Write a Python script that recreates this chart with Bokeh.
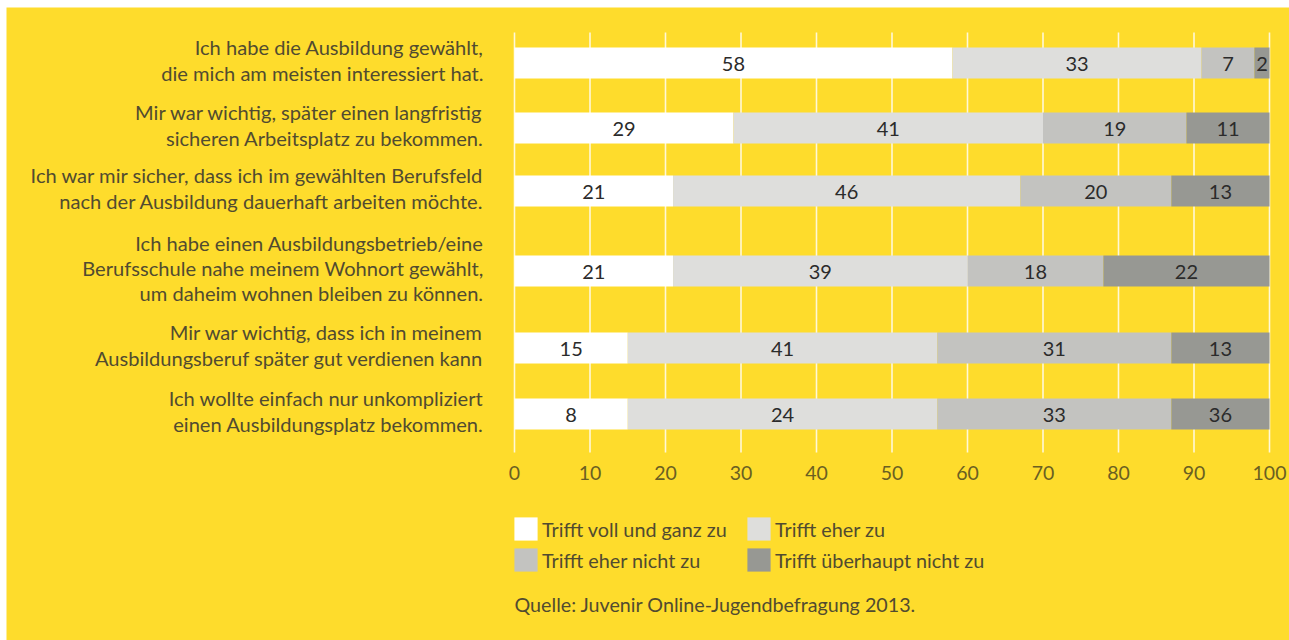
from bokeh.plotting import figure
from bokeh.models import Range1d, ColumnDataSource, Legend, LegendItem
from bokeh.embed import file_html
from bokeh.resources import INLINE
from bokeh.core.properties import value

# ---------------- data ----------------
categories = [
    "Ich habe die Ausbildung gewählt,\ndie mich am meisten interessiert hat.",
    "Mir war wichtig, später einen langfristig\nsicheren Arbeitsplatz zu bekommen.",
    "Ich war mir sicher, dass ich im gewählten Berufsfeld\nnach der Ausbildung dauerhaft arbeiten möchte.",
    "Ich habe einen Ausbildungsbetrieb/eine\nBerufsschule nahe meinem Wohnort gewählt,\num daheim wohnen bleiben zu können.",
    "Mir war wichtig, dass ich in meinem\nAusbildungsberuf später gut verdienen kann",
    "Ich wollte einfach nur unkompliziert\neinen Ausbildungsplatz bekommen.",
]
series = ["Trifft voll und ganz zu", "Trifft eher zu", "Trifft eher nicht zu", "Trifft überhaupt nicht zu"]

# values printed in the bars (%)
voll_und_ganz = [58, 29, 21, 21, 15, 8]
eher_zu = [33, 41, 46, 39, 41, 24]
eher_nicht = [7, 19, 20, 18, 31, 33]
ueberhaupt_nicht = [2, 11, 13, 22, 13, 36]

# segment lengths as drawn in the original (its last bar repeats the geometry of row 5)
voll_und_ganz_bar = [58, 29, 21, 21, 15, 15]
eher_zu_bar = [33, 41, 46, 39, 41, 41]
eher_nicht_bar = [7, 19, 20, 18, 31, 31]
ueberhaupt_nicht_bar = [2, 11, 13, 22, 13, 13]

ticks = [0, 10, 20, 30, 40, 50, 60, 70, 80, 90, 100]
source_note = "Quelle: Juvenir Online-Jugendbefragung 2013."

# ---------------- style / layout ----------------
W, H = 1289, 640
LEFT, TOP = 6, 7                      # white margin around the yellow panel
X0_PX, PX_PER_UNIT = 514, 7.55        # page pixel of value 0, pixels per percent
row_y = [62.5, 127.5, 190.5, 270.5, 347.5, 413.5]   # bar centres (page px from top)
BAR_H = 31
YELLOW = "#FEDC2C"
COLORS = ["#FFFFFF", "#DEDEDC", "#C3C3C0", "#979893"]
TEXT = "#514b30"
TICK_TEXT = "#6a5f22"
FONT = "Lato"

p = figure(width=W, height=H, output_backend="svg", toolbar_location=None,
           x_range=Range1d((LEFT - X0_PX) / PX_PER_UNIT, (W - X0_PX) / PX_PER_UNIT),
           y_range=Range1d(H, TOP),
           x_axis_location=None, y_axis_location=None,
           min_border_left=LEFT, min_border_top=TOP, min_border_right=0, min_border_bottom=0)
p.background_fill_color = YELLOW
p.border_fill_color = "#FFFFFF"
p.outline_line_color = None
p.xgrid.visible = False
p.ygrid.visible = False

# grid lines
p.segment(x0=ticks, x1=ticks, y0=[32] * len(ticks), y1=[452] * len(ticks),
          line_color="#FFF8D8", line_width=1.6)

# stacked bars
bar_series = [voll_und_ganz_bar, eher_zu_bar, eher_nicht_bar, ueberhaupt_nicht_bar]
label_series = [voll_und_ganz, eher_zu, eher_nicht, ueberhaupt_nicht]
left = [0] * len(categories)
renderers = []
centers_x, centers_y, texts = [], [], []
for vals, labs, col in zip(bar_series, label_series, COLORS):
    right = [l + v for l, v in zip(left, vals)]
    src = ColumnDataSource(dict(y=row_y, left=left, right=right))
    r = p.hbar(y="y", left="left", right="right", height=BAR_H, source=src,
               fill_color=col, line_color=None)
    renderers.append(r)
    for l, rr, yy, lab in zip(left, right, row_y, labs):
        centers_x.append((l + rr) / 2)
        centers_y.append(yy + 0.5)
        texts.append(str(lab))
    left = right

p.text(x=centers_x, y=centers_y, text=texts, text_align="center", text_baseline="middle",
       text_font=value(FONT), text_font_size="20px", text_color="#2b2b2b")

# category labels
p.text(x=[0] * len(categories), y=[y - 3 for y in row_y], text=categories,
       x_offset=-31, text_align="right", text_baseline="middle",
       text_font=value(FONT), text_font_size="20.1px", text_color=TEXT, text_line_height=1.05)

# tick labels
p.text(x=ticks, y=[472] * len(ticks), text=[str(t) for t in ticks],
       text_align="center", text_baseline="middle",
       text_font=value(FONT), text_font_size="19.5px", text_color=TICK_TEXT)

# legend
legend = Legend(items=[LegendItem(label=s, renderers=[r]) for s, r in zip(series, renderers)],
                location=(505, 66), orientation="horizontal", ncols=2,
                glyph_width=29, glyph_height=29, label_standoff=2, label_width=200,
                spacing=2, padding=0, margin=0, border_line_color=None,
                background_fill_alpha=0, label_text_font=FONT,
                label_text_font_size="19.8px", label_text_color=TEXT)
p.add_layout(legend)

# source
p.text(x=[0], y=[604], text=[source_note], text_align="left", text_baseline="middle",
       text_font=value(FONT), text_font_size="19.7px", text_color=TEXT)

open("out.html", "w").write(file_html(p, INLINE))
